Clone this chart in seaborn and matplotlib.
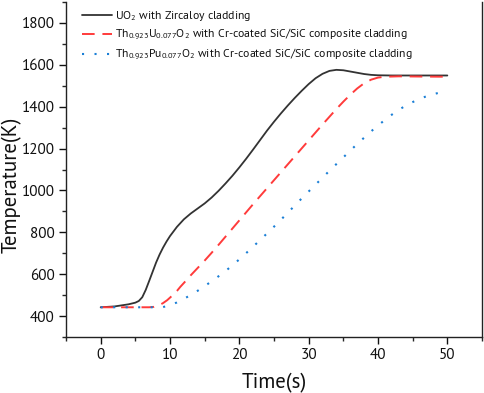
import numpy as np
import pandas as pd
import matplotlib
matplotlib.use("Agg")
import matplotlib.pyplot as plt
from matplotlib.ticker import MultipleLocator
from matplotlib.lines import Line2D
import seaborn as sns

# ---- data ----
t_uo2 = [0, 2, 4, 5, 5.5, 6, 6.5, 7, 7.5, 8, 8.5, 9, 9.5, 10, 11, 12, 13, 14, 15, 16,
         17, 18, 19, 20, 21, 22, 23, 24, 25, 26, 27, 28, 29, 30, 31, 32, 33, 34, 35,
         36, 37, 38, 39, 40, 42, 45, 50]
T_uo2 = [442, 446, 456, 464, 472, 490, 525, 568, 612, 656, 694, 727, 756, 782, 826,
         862, 890, 914, 938, 966, 998, 1033, 1070, 1110, 1152, 1196, 1241, 1286, 1328,
         1368, 1406, 1442, 1476, 1508, 1536, 1557, 1571, 1576, 1574, 1568, 1562, 1556,
         1552, 1550, 1549, 1549, 1549]

t_thu = [0, 2, 4, 6, 7, 7.7, 8.5, 9, 9.6, 10, 10.5, 11, 11.5, 12, 13, 14, 15, 16, 17,
         18, 19, 20, 21, 22, 23, 24, 25, 26, 27, 28, 29, 30, 31, 32, 33, 34, 35, 36,
         37, 38, 39, 40, 41, 43, 46, 50]
T_thu = [442, 442, 442, 442, 442, 444, 453, 462, 476, 488, 503, 520, 540, 558, 595,
         630, 665, 702, 740, 779, 818, 857, 896, 935, 973, 1011, 1049, 1087, 1125, 1163,
         1201, 1239, 1277, 1315, 1352, 1389, 1424, 1457, 1487, 1512, 1529, 1539, 1543,
         1545, 1544, 1543]

t_thpu = [0, 3, 6, 8.9, 10, 11, 12, 13, 14, 15, 16, 17, 18, 19, 20, 21, 22, 23, 24,
          25, 26, 27, 28, 29, 30, 31, 32, 33, 34, 35, 36, 37, 38, 39, 40, 41, 42, 43,
          44, 45, 46, 47, 48, 49, 50]
T_thpu = [442, 442, 442, 442, 452, 465, 482, 501, 521, 543, 566, 590, 615, 642, 671,
          701, 732, 763, 795, 827, 860, 894, 928, 962, 995, 1028, 1061, 1094, 1126,
          1158, 1190, 1222, 1252, 1282, 1310, 1337, 1362, 1385, 1405, 1422, 1437, 1450,
          1460, 1468, 1473]

labels = [r"UO$_2$ with Zircaloy cladding",
          r"Th$_{0.923}$U$_{0.077}$O$_2$ with Cr-coated SiC/SiC composite cladding",
          r"Th$_{0.923}$Pu$_{0.077}$O$_2$ with Cr-coated SiC/SiC composite cladding"]

x_ticks = [0, 10, 20, 30, 40, 50]
y_ticks = [400, 600, 800, 1000, 1200, 1400, 1600, 1800]

df = pd.concat([
    pd.DataFrame({"t": t_uo2, "T": T_uo2, "series": labels[0]}),
    pd.DataFrame({"t": t_thu, "T": T_thu, "series": labels[1]}),
    pd.DataFrame({"t": t_thpu, "T": T_thpu, "series": labels[2]}),
], ignore_index=True)

sns.set_style("ticks")
FONT = "PT Sans"
plt.rcParams["font.family"] = [FONT, "DejaVu Sans"]
plt.rcParams["mathtext.fontset"] = "custom"
plt.rcParams["mathtext.rm"] = FONT
plt.rcParams["mathtext.it"] = FONT + ":italic"
plt.rcParams["mathtext.default"] = "regular"
plt.rcParams["text.color"] = "#111111"

fig = plt.figure(figsize=(4.84, 3.93), dpi=100)
ax = fig.add_axes([66 / 484, 1 - 337 / 393, (482 - 66) / 484, (337 - 2) / 393])

colors = {labels[0]: "#333333", labels[1]: "#ff3b3b", labels[2]: "#1a7fd6"}
dashes = {labels[0]: "", labels[1]: (6.5, 4), labels[2]: (1, 5)}
widths = {labels[0]: 1.3, labels[1]: 1.4, labels[2]: 1.5}

sns.lineplot(data=df, x="t", y="T", hue="series", style="series",
             palette=colors, dashes=dashes, sort=False, estimator=None,
             linewidth=1.3, ax=ax, legend=False)
for line, lab in zip(ax.get_lines(), labels):
    line.set_linewidth(widths[lab])
    if lab != labels[0]:
        line.set_dashes(dashes[lab])

ax.set_xlim(-5, 55)
ax.set_ylim(300, 1900)
ax.set_xticks(x_ticks)
ax.set_yticks(y_ticks)
ax.xaxis.set_minor_locator(MultipleLocator(5))
ax.yaxis.set_minor_locator(MultipleLocator(100))
ax.tick_params(which="major", direction="out", length=5, width=1.0, labelsize=11,
               colors="#111111", pad=3)
ax.tick_params(which="minor", direction="out", length=3, width=1.0)
for s in ["left", "bottom", "right"]:
    ax.spines[s].set_linewidth(1.0)
    ax.spines[s].set_color("#222222")
ax.spines["top"].set_visible(False)

ax.set_xlabel("Time(s)", fontsize=15, labelpad=8, color="#111111")
ax.set_ylabel("")
fig.text(12 / 484, 1 - 185 / 393, "Temperature(K)", rotation=90, fontsize=15,
         ha="center", va="center", color="#111111")

handles = [Line2D([], [], color=colors[l], linewidth=widths[l],
                  linestyle="-" if l == labels[0] else (0, dashes[l]))
           for l in labels]
ax.legend(handles, labels, loc="upper left", frameon=False, fontsize=8.5,
          handlelength=2.5, handletextpad=0.3, labelspacing=0.3,
          bbox_to_anchor=(0.022, 1.0), borderaxespad=0.2)

fig.savefig("out.png", dpi=100)
